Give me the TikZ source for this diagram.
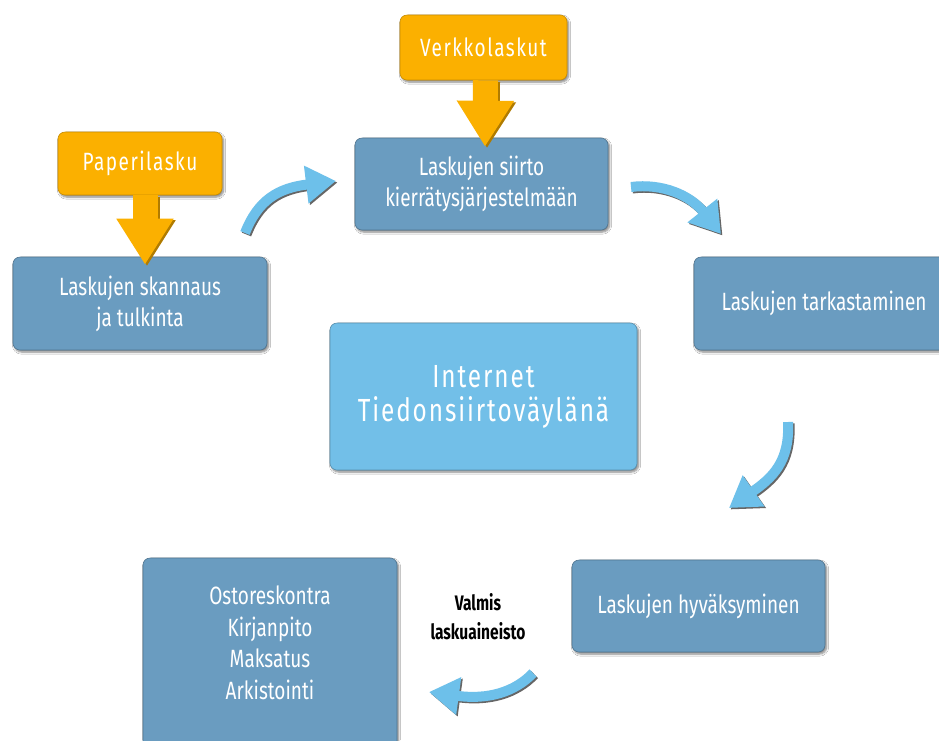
\documentclass[tikz,border=0pt]{standalone}
\usepackage{fontspec}
\setmainfont{Fira Sans}
\newfontfamily\cond[FakeStretch=0.76]{Fira Sans}
\newfontfamily\condsp[FakeStretch=0.76,LetterSpace=6]{Fira Sans}
\newfontfamily\condbold[FakeStretch=0.74]{Fira Sans Bold}
\usetikzlibrary{arrows.meta,shadows.blur}
\definecolor{boxblue}{HTML}{6A9CC0}
\definecolor{netblue}{HTML}{72BFE8}
\definecolor{arrblue}{HTML}{6DC0EA}
\definecolor{orng}{HTML}{FBB000}
\begin{document}
\begin{tikzpicture}[x=1pt,y=-1pt,
  box/.style={rectangle, rounded corners=7pt, fill=boxblue, draw=boxblue!75!black,
    line width=0.6pt, text=white, align=center, inner sep=0pt,
    font=\cond\fontsize{25}{31}\selectfont,
    blur shadow={shadow xshift=1.5pt, shadow yshift=-2pt, shadow blur steps=6, shadow opacity=50}},
  netbox/.style={box, fill=netblue, draw=netblue!75!black, font=\condsp\fontsize{32}{34}\selectfont},
  obox/.style={box, fill=orng, draw=orng!80!black, font=\condsp\fontsize{25}{26}\selectfont},
  oarrow/.style={draw=orng, line width=25pt, -{Triangle[length=46pt,width=54pt]}},
  oshadow/.style={draw=orng!70!black, line width=25pt, -{Triangle[length=46pt,width=54pt]},
    transform canvas={shift={(2pt,-1.5pt)}}},
  barrow/.style={draw=arrblue, line width=10pt, -{Triangle[length=30pt,width=36pt]}},
  bshadow/.style={draw=black!60, line width=10pt, -{Triangle[length=30pt,width=36pt]},
    transform canvas={shift={(1.5pt,-1.5pt)}}},
  lbl/.style={font=\condbold\fontsize{21}{29}\selectfont, align=center, text=black}
]
\path[use as bounding box, fill=white] (0,0) rectangle (939,740);

% blue boxes
\node[box, minimum width=254pt, minimum height=93pt] (skan) at (140,303.5) {Laskujen skannaus\\ja tulkinta};
\node[box, minimum width=253pt, minimum height=92pt] (siirto) at (481.5,184) {Laskujen siirto\\kierrätysjärjestelmään};
\node[box, minimum width=260pt, minimum height=93pt] (tark) at (824,303.5) {Laskujen tarkastaminen};
\node[netbox, minimum width=307pt, minimum height=147pt] (net) at (483.5,396.5) {Internet\\Tiedonsiirtoväylänä};
\node[box, minimum width=253pt, minimum height=92pt] (hyv) at (698.5,606) {Laskujen hyväksyminen};
\node[box, minimum width=254pt, minimum height=190pt] (arch) at (270,653) {};
\node[font=\cond\fontsize{25}{31.5}\selectfont, text=white, align=center] (archtxt) at (270,643) {Ostoreskontra\\Kirjanpito\\Maksatus\\Arkistointi};

% orange inputs
\node[obox, minimum width=164pt, minimum height=63pt] (paper) at (140,163.5) {Paperilasku};
\node[obox, minimum width=167pt, minimum height=65pt] (verkko) at (483.5,47.5) {Verkkolaskut};
\draw[oshadow] ([xshift=5pt]paper.south) -- ([xshift=5pt,yshift=-8pt]skan.north);
\draw[oarrow]  ([xshift=5pt]paper.south) -- ([xshift=5pt,yshift=-8pt]skan.north);
\draw[oshadow] ([xshift=2pt]verkko.south) -- ([xshift=3.5pt,yshift=-9pt]siirto.north);
\draw[oarrow]  ([xshift=2pt]verkko.south) -- ([xshift=3.5pt,yshift=-9pt]siirto.north);

% curved cycle arrows
\coordinate (a1s) at (245,233);
\coordinate (a1e) at (336,181);
\coordinate (a2s) at (631,187);
\coordinate (a2e) at (721,234);
\coordinate (a3s) at (788,422);
\coordinate (a3e) at (729,508);
\coordinate (a4s) at (533,673);
\coordinate (a4e) at (429,692);
\draw[bshadow] (a1s) .. controls (258,200) and (278,188) .. (a1e);
\draw[barrow]  (a1s) .. controls (258,200) and (278,188) .. (a1e);
\draw[bshadow] (a2s) .. controls (662,183) and (690,195) .. (a2e);
\draw[barrow]  (a2s) .. controls (662,183) and (690,195) .. (a2e);
\draw[bshadow] (a3s) .. controls (790,462) and (772,478) .. (a3e);
\draw[barrow]  (a3s) .. controls (790,462) and (772,478) .. (a3e);
\draw[bshadow] (a4s) .. controls (515,692) and (488,700) .. (a4e);
\draw[barrow]  (a4s) .. controls (515,692) and (488,700) .. (a4e);

\node[lbl] (valmis) at (478,617) {Valmis\\laskuaineisto};
\end{tikzpicture}
\end{document}
